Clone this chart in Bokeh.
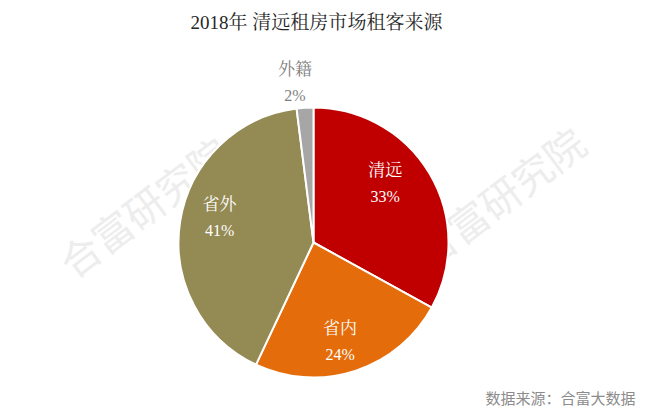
import numpy as np
from bokeh.plotting import figure
from bokeh.models import Range1d, ColumnDataSource
from bokeh.core.properties import value
from bokeh.embed import file_html
from bokeh.resources import INLINE

# ---- data ----
categories = ["清远", "省内", "省外", "外籍"]
shares = [33, 24, 41, 2]
pct_labels = ["33%", "24%", "41%", "2%"]
title_text = "2018年 清远租房市场租客来源"
source_text = "数据来源：合富大数据"
watermark_text = "合富研究院"

# ---- styles ----
colors = ["#C00000", "#E46C0A", "#948A54", "#A6A6A6"]
label_colors = ["#FFFFFF", "#FFFFFF", "#FFFFFF", "#7F7F7F"]
label_rf = [0.69, 0.76, 0.72, 1.19]
label_da = [9, -3, -6, 3]  # degrees tweak

W, H = 650, 416
cx, cy, R = 313, 416 - 242, 135

total = float(sum(shares))
frac = np.array(shares) / total
ends = 90 - 360 * np.cumsum(frac)
starts = np.concatenate([[90.0], ends[:-1]])
mids = (starts + ends) / 2

p = figure(width=W, height=H, output_backend="svg", toolbar_location=None,
           x_range=Range1d(0, W), y_range=Range1d(0, H), min_border=0)
p.axis.visible = False
p.grid.visible = False
p.outline_line_color = None
p.background_fill_color = "white"
p.border_fill_color = "white"

serif = value("Liberation Serif, Noto Serif CJK SC, Noto Sans CJK SC")

# watermarks (behind pie)
ang = np.deg2rad(37)
p.text(x=[143, 499], y=[416 - 206, 416 - 196], text=[watermark_text] * 2,
       angle=ang, text_align="center", text_baseline="middle",
       text_font=value("Noto Sans CJK SC"), text_font_size="40px",
       text_color="#EDEDED")

src = ColumnDataSource(dict(
    cat=categories, start=np.deg2rad(starts), end=np.deg2rad(ends),
    color=colors))
p.wedge(x=cx, y=cy, radius=R, start_angle="start", end_angle="end",
        direction="clock", fill_color="color", line_color="white",
        line_width=2, source=src)

la = np.deg2rad(mids + np.array(label_da))
lx = cx + R * np.array(label_rf) * np.cos(la)
ly = cy + R * np.array(label_rf) * np.sin(la)
lsrc = ColumnDataSource(dict(x=lx, y=ly, cat=categories, pct=pct_labels,
                             c=label_colors))
p.text(x="x", y="y", text="cat", source=lsrc, text_color="c",
       text_align="center", text_baseline="middle", y_offset=-13,
       text_font=serif, text_font_size="17px")
p.text(x="x", y="y", text="pct", source=lsrc, text_color="c",
       text_align="center", text_baseline="middle", y_offset=13,
       text_font=serif, text_font_size="16px")

# title
p.text(x=[316], y=[H - 22], text=[title_text], text_align="center",
       text_baseline="middle", text_font=serif, text_font_size="19px",
       text_color="#262626")
# source
p.text(x=[635], y=[H - 397], text=[source_text], text_align="right",
       text_baseline="middle", text_font=value("Noto Sans CJK SC"),
       text_font_size="15px", text_color="#8C8C8C")

open("out.html", "w").write(file_html(p, INLINE))
